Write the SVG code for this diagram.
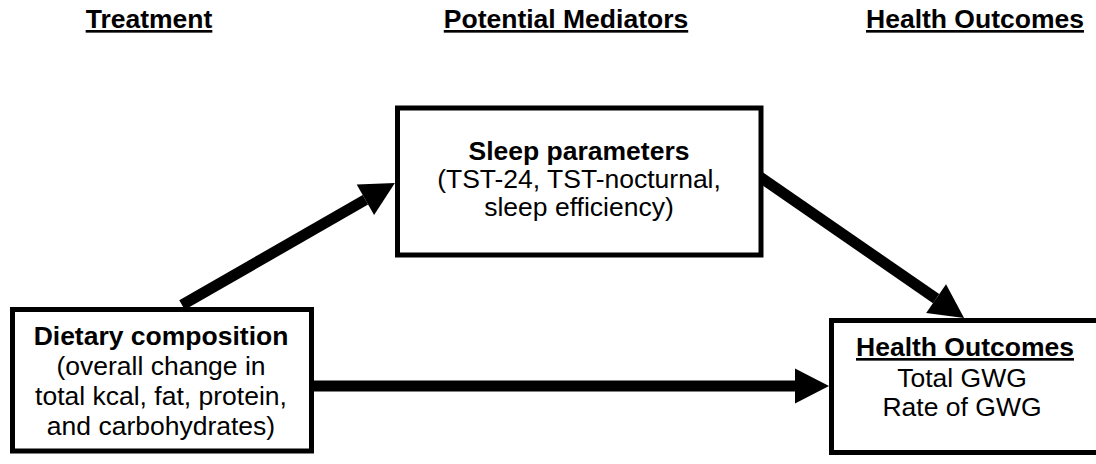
<svg xmlns="http://www.w3.org/2000/svg" width="1096" height="464" viewBox="0 0 1096 464">
  <style>
    text { font-family: "Liberation Sans", Arial, sans-serif; font-size: 26.5px; fill: #000; text-anchor: middle; }
    .b { font-weight: bold; }
    .u { text-decoration: underline; }
    .box { fill: #fff; stroke: #000; stroke-width: 5; }
    .conn { stroke: #000; stroke-width: 11; fill: none; marker-end: url(#ah); }
  </style>
  <defs>
    <marker id="ah" markerUnits="userSpaceOnUse" markerWidth="36" markerHeight="36" refX="0" refY="17.5" orient="auto" viewBox="0 0 36 36" overflow="visible">
      <path d="M0,0 L34,17.5 L0,35 Z" fill="#000"/>
    </marker>
  </defs>
  <rect width="1096" height="464" fill="#fff"/>

  <g id="headers">
    <text class="b u" x="149" y="28">Treatment</text>
    <text class="b u" x="566" y="28">Potential Mediators</text>
    <text class="b u" x="975" y="28">Health Outcomes</text>
  </g>

  <g id="connectors">
    <line class="conn" x1="182" y1="305" x2="365.4" y2="199.8"/>
    <line class="conn" x1="760" y1="177" x2="936.1" y2="298.6"/>
    <line class="conn" x1="313" y1="386" x2="795" y2="386"/>
  </g>

  <g id="sleep">
    <rect class="box" x="397.5" y="108" width="363.5" height="147"/>
    <text class="b" x="579" y="160">Sleep parameters</text>
    <text x="579" y="188">(TST-24, TST-nocturnal,</text>
    <text x="579" y="216">sleep efficiency)</text>
  </g>

  <g id="diet">
    <rect class="box" x="12.5" y="309.5" width="299" height="141.5"/>
    <text class="b" x="161" y="345">Dietary composition</text>
    <text x="161" y="375">(overall change in</text>
    <text x="161" y="405">total kcal, fat, protein,</text>
    <text x="161" y="435">and carbohydrates)</text>
  </g>

  <g id="health">
    <rect class="box" x="831.5" y="320.5" width="270" height="132"/>
    <text class="b u" x="965" y="356">Health Outcomes</text>
    <text x="962" y="387">Total GWG</text>
    <text x="962" y="416">Rate of GWG</text>
  </g>
</svg>
